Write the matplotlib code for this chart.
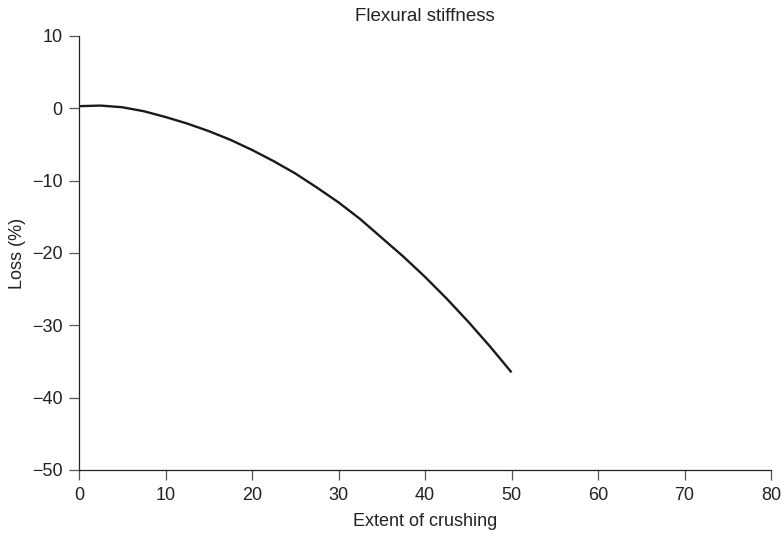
import matplotlib
matplotlib.use("Agg")
import matplotlib.pyplot as plt

# Data
extent = [0, 2.5, 5, 7.5, 10, 12.5, 15, 17.5, 20, 22.5, 25, 27.5, 30,
          32.5, 35, 37.5, 40, 42.5, 45, 47.5, 50]
loss = [0.3, 0.38, 0.15, -0.4, -1.2, -2.1, -3.15, -4.35, -5.75, -7.3, -9.0,
        -10.95, -13.0, -15.3, -17.9, -20.5, -23.3, -26.3, -29.5, -32.9, -36.5]
x_ticks = [0, 10, 20, 30, 40, 50, 60, 70, 80]
y_ticks = [10, 0, -10, -20, -30, -40, -50]

plt.rcParams['font.family'] = ['Liberation Sans', 'DejaVu Sans']

fig = plt.figure(figsize=(7.84, 5.37), dpi=100)
ax = fig.add_axes([79/784, 1 - 470/537, (771-79)/784, (470-36)/537])

ax.plot(extent, loss, color='#1a1a1a', lw=1.7, solid_joinstyle='round',
        solid_capstyle='butt')

ax.set_xlim(0, 80)
ax.set_ylim(-50, 10)
ax.set_xticks(x_ticks)
ax.set_yticks(y_ticks)
ax.set_yticklabels([str(v).replace('-', '\u2212') for v in y_ticks])

for s in ['top', 'right']:
    ax.spines[s].set_visible(False)
for s in ['left', 'bottom']:
    ax.spines[s].set_color('#222222')
    ax.spines[s].set_linewidth(0.9)

ax.tick_params(axis='both', direction='out', length=7, width=0.9,
               color='#555555', labelsize=13, labelcolor='#222222')
ax.tick_params(axis='y', pad=5)
ax.tick_params(axis='x', pad=5)

ax.set_title('Flexural stiffness', fontsize=13.5, color='#222222', pad=11)
ax.set_xlabel('Extent of crushing', fontsize=13, color='#222222', labelpad=7)
ax.set_ylabel('Loss (%)', fontsize=13, color='#222222', labelpad=4)

fig.savefig('out.png', dpi=100)
